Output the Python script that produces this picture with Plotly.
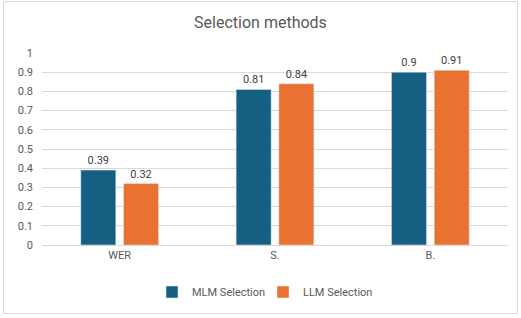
import plotly.graph_objects as go

categories = ["WER", "S.", "B."]
mlm_values = [0.39, 0.81, 0.9]
llm_values = [0.32, 0.84, 0.91]
series_names = ["MLM Selection", "LLM Selection"]
y_tick_vals = [0, 0.1, 0.2, 0.3, 0.4, 0.5, 0.6, 0.7, 0.8, 0.9, 1]
y_tick_text = ["0", "0.1", "0.2", "0.3", "0.4", "0.5", "0.6", "0.7", "0.8", "0.9", "1"]

W, H = 521, 318
ml, mr, mt, mb = 42, 13, 53, 73
pw, ph = W - ml - mr, H - mt - mb

def px_x(p):
    return (p - ml) / pw

def px_y(p):
    return (H - mb - p) / ph

font = "Roboto"
fig = go.Figure()
for name, vals, col in [(series_names[0], mlm_values, "#156082"),
                        (series_names[1], llm_values, "#E97132")]:
    fig.add_trace(go.Bar(
        x=categories, y=vals, name=name, marker_color=col,
        text=[f"{v:g}" for v in vals], textposition="outside",
        textfont=dict(size=11, color="#404040", family=font),
        cliponaxis=False,
    ))

fig.update_layout(
    width=W, height=H,
    margin=dict(l=ml, r=mr, t=mt, b=mb, autoexpand=False),
    paper_bgcolor="white", plot_bgcolor="white",
    barmode="group", bargap=0.45, bargroupgap=0.18,
    title=dict(text="Selection methods", x=0.5, xanchor="center", y=1 - 22 / H, yanchor="middle",
               font=dict(size=16, color="#595959", family=font)),
    font=dict(family=font, color="#595959", size=11),
    legend=dict(orientation="h", x=0.5 - 12 / pw, xanchor="center", y=px_y(292), yanchor="middle",
                font=dict(size=11, color="#595959", family=font),
                itemwidth=30, traceorder="normal", entrywidth=66),
    showlegend=True,
)
fig.update_yaxes(range=[0, 1], tickvals=y_tick_vals, ticktext=y_tick_text,
                 showgrid=True, gridcolor="#D9D9D9", automargin=False,
                 zeroline=False, showline=False, ticks="", ticklabelstandoff=8,
                 tickfont=dict(size=11, color="#595959"))
fig.update_xaxes(showline=True, linecolor="#D9D9D9", linewidth=1, ticks="", automargin=False,
                 tickfont=dict(size=11, color="#595959"))
fig.add_shape(type="rect", xref="paper", yref="paper",
              x0=px_x(3.5), x1=px_x(517.5), y0=px_y(313.5), y1=px_y(1.5),
              line=dict(color="#D9D9D9", width=1), fillcolor="rgba(0,0,0,0)", layer="below")

fig.write_html("out.html", config={"displayModeBar": False},
               post_script="document.body.style.margin='0';document.body.style.overflow='hidden';")
